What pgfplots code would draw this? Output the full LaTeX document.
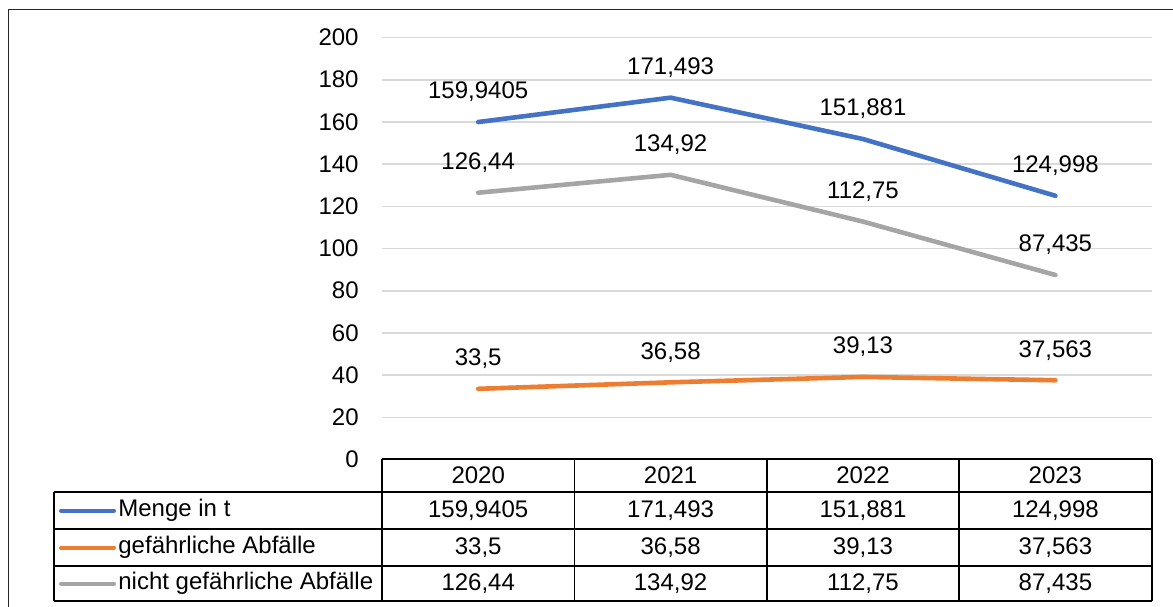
\documentclass[border=0pt]{standalone}
\usepackage{pgfplots}
\pgfplotsset{compat=1.18}
\usepackage{pgfplotstable}
\usepackage{fontspec}
\setmainfont{Liberation Sans}
\definecolor{cblue}{HTML}{4472C4}
\definecolor{corange}{HTML}{ED7D31}
\definecolor{cgray}{HTML}{A5A5A5}
\definecolor{cgrid}{HTML}{D9D9D9}

\pgfplotstableread{
x y label
0 159.9405 159,9405
1 171.493 171,493
2 151.881 151,881
3 124.998 124,998
}\menge
\pgfplotstableread{
x y label
0 33.5 33,5
1 36.58 36,58
2 39.13 39,13
3 37.563 37,563
}\gef
\pgfplotstableread{
x y label
0 126.44 126,44
1 134.92 134,92
2 112.75 112,75
3 87.435 87,435
}\nichtgef

\newcommand{\cf}{\fontsize{12}{14.4}\selectfont}

\begin{document}
\cf
\begin{tikzpicture}[font=\cf]
\begin{axis}[
  at={(191pt,-229.75pt)}, anchor=south west,
  scale only axis,
  width=384.8pt, height=211pt,
  xmin=-0.5, xmax=3.5, ymin=0, ymax=200,
  ytick={0,20,...,200},
  xtick=\empty,
  ymajorgrids,
  grid style={cgrid, line width=0.8pt},
  axis line style={draw=none},
  major tick length=0pt,
  tick align=inside,
  /pgf/number format/assume math mode=true,
  yticklabel style={inner sep=0pt, xshift=-11.5pt, font=\cf},
  clip=false,
  nodes near coords={\pgfplotspointmeta},
  point meta=explicit symbolic,
  every node near coord/.style={anchor=center, yshift=15pt, text=black, font=\cf},
]
\addplot[cblue, line width=2.3pt, line cap=round, line join=round] table[x=x,y=y,meta=label]{\menge};
\addplot[corange, line width=2.3pt, line cap=round, line join=round] table[x=x,y=y,meta=label]{\gef};
\addplot[cgray, line width=2.3pt, line cap=round, line join=round] table[x=x,y=y,meta=label]{\nichtgef};
\end{axis}
\begin{scope}[x=0.5pt,y=-0.5pt]
  % outer chart border
  \draw[line width=0.75pt, black!85] (8.3,640) -- (8.3,9.5) -- (1300,9.5);
  % data table lines
  \begin{scope}[line width=0.9pt]
    \draw (382,459) -- (1151.6,459);
    \foreach \xx in {382,574.4,766.8,959.2,1151.6} \draw (\xx,459) -- (\xx,601);
    \foreach \yy in {492,529,566,601} \draw (54,\yy) -- (1151.6,\yy);
    \draw (54,492) -- (54,601);
  \end{scope}
  % header
  \node at (478.2,475.5) {2020};
  \node at (670.6,475.5) {2021};
  \node at (863.0,475.5) {2022};
  \node at (1055.4,475.5) {2023};
  % row 1
  \draw[cblue, line width=2pt, line cap=round] (61,510.5) -- (114,510.5);
  \node[anchor=west, inner sep=0pt] at (118,510.5) {Menge in t};
  \node at (478.2,510.5) {159,9405};
  \node at (670.6,510.5) {171,493};
  \node at (863.0,510.5) {151,881};
  \node at (1055.4,510.5) {124,998};
  % row 2
  \draw[corange, line width=2pt, line cap=round] (61,547.5) -- (114,547.5);
  \node[anchor=west, inner sep=0pt] at (118,547.5) {gefährliche Abfälle};
  \node at (478.2,547.5) {33,5};
  \node at (670.6,547.5) {36,58};
  \node at (863.0,547.5) {39,13};
  \node at (1055.4,547.5) {37,563};
  % row 3
  \draw[cgray, line width=2pt, line cap=round] (61,583.5) -- (114,583.5);
  \node[anchor=west, inner sep=0pt] at (118,583.5) {nicht gefährliche Abfälle};
  \node at (478.2,583.5) {126,44};
  \node at (670.6,583.5) {134,92};
  \node at (863.0,583.5) {112,75};
  \node at (1055.4,583.5) {87,435};
  \pgfresetboundingbox
  \path[use as bounding box] (0,0) rectangle (1173,606);
\end{scope}
\end{tikzpicture}
\end{document}
